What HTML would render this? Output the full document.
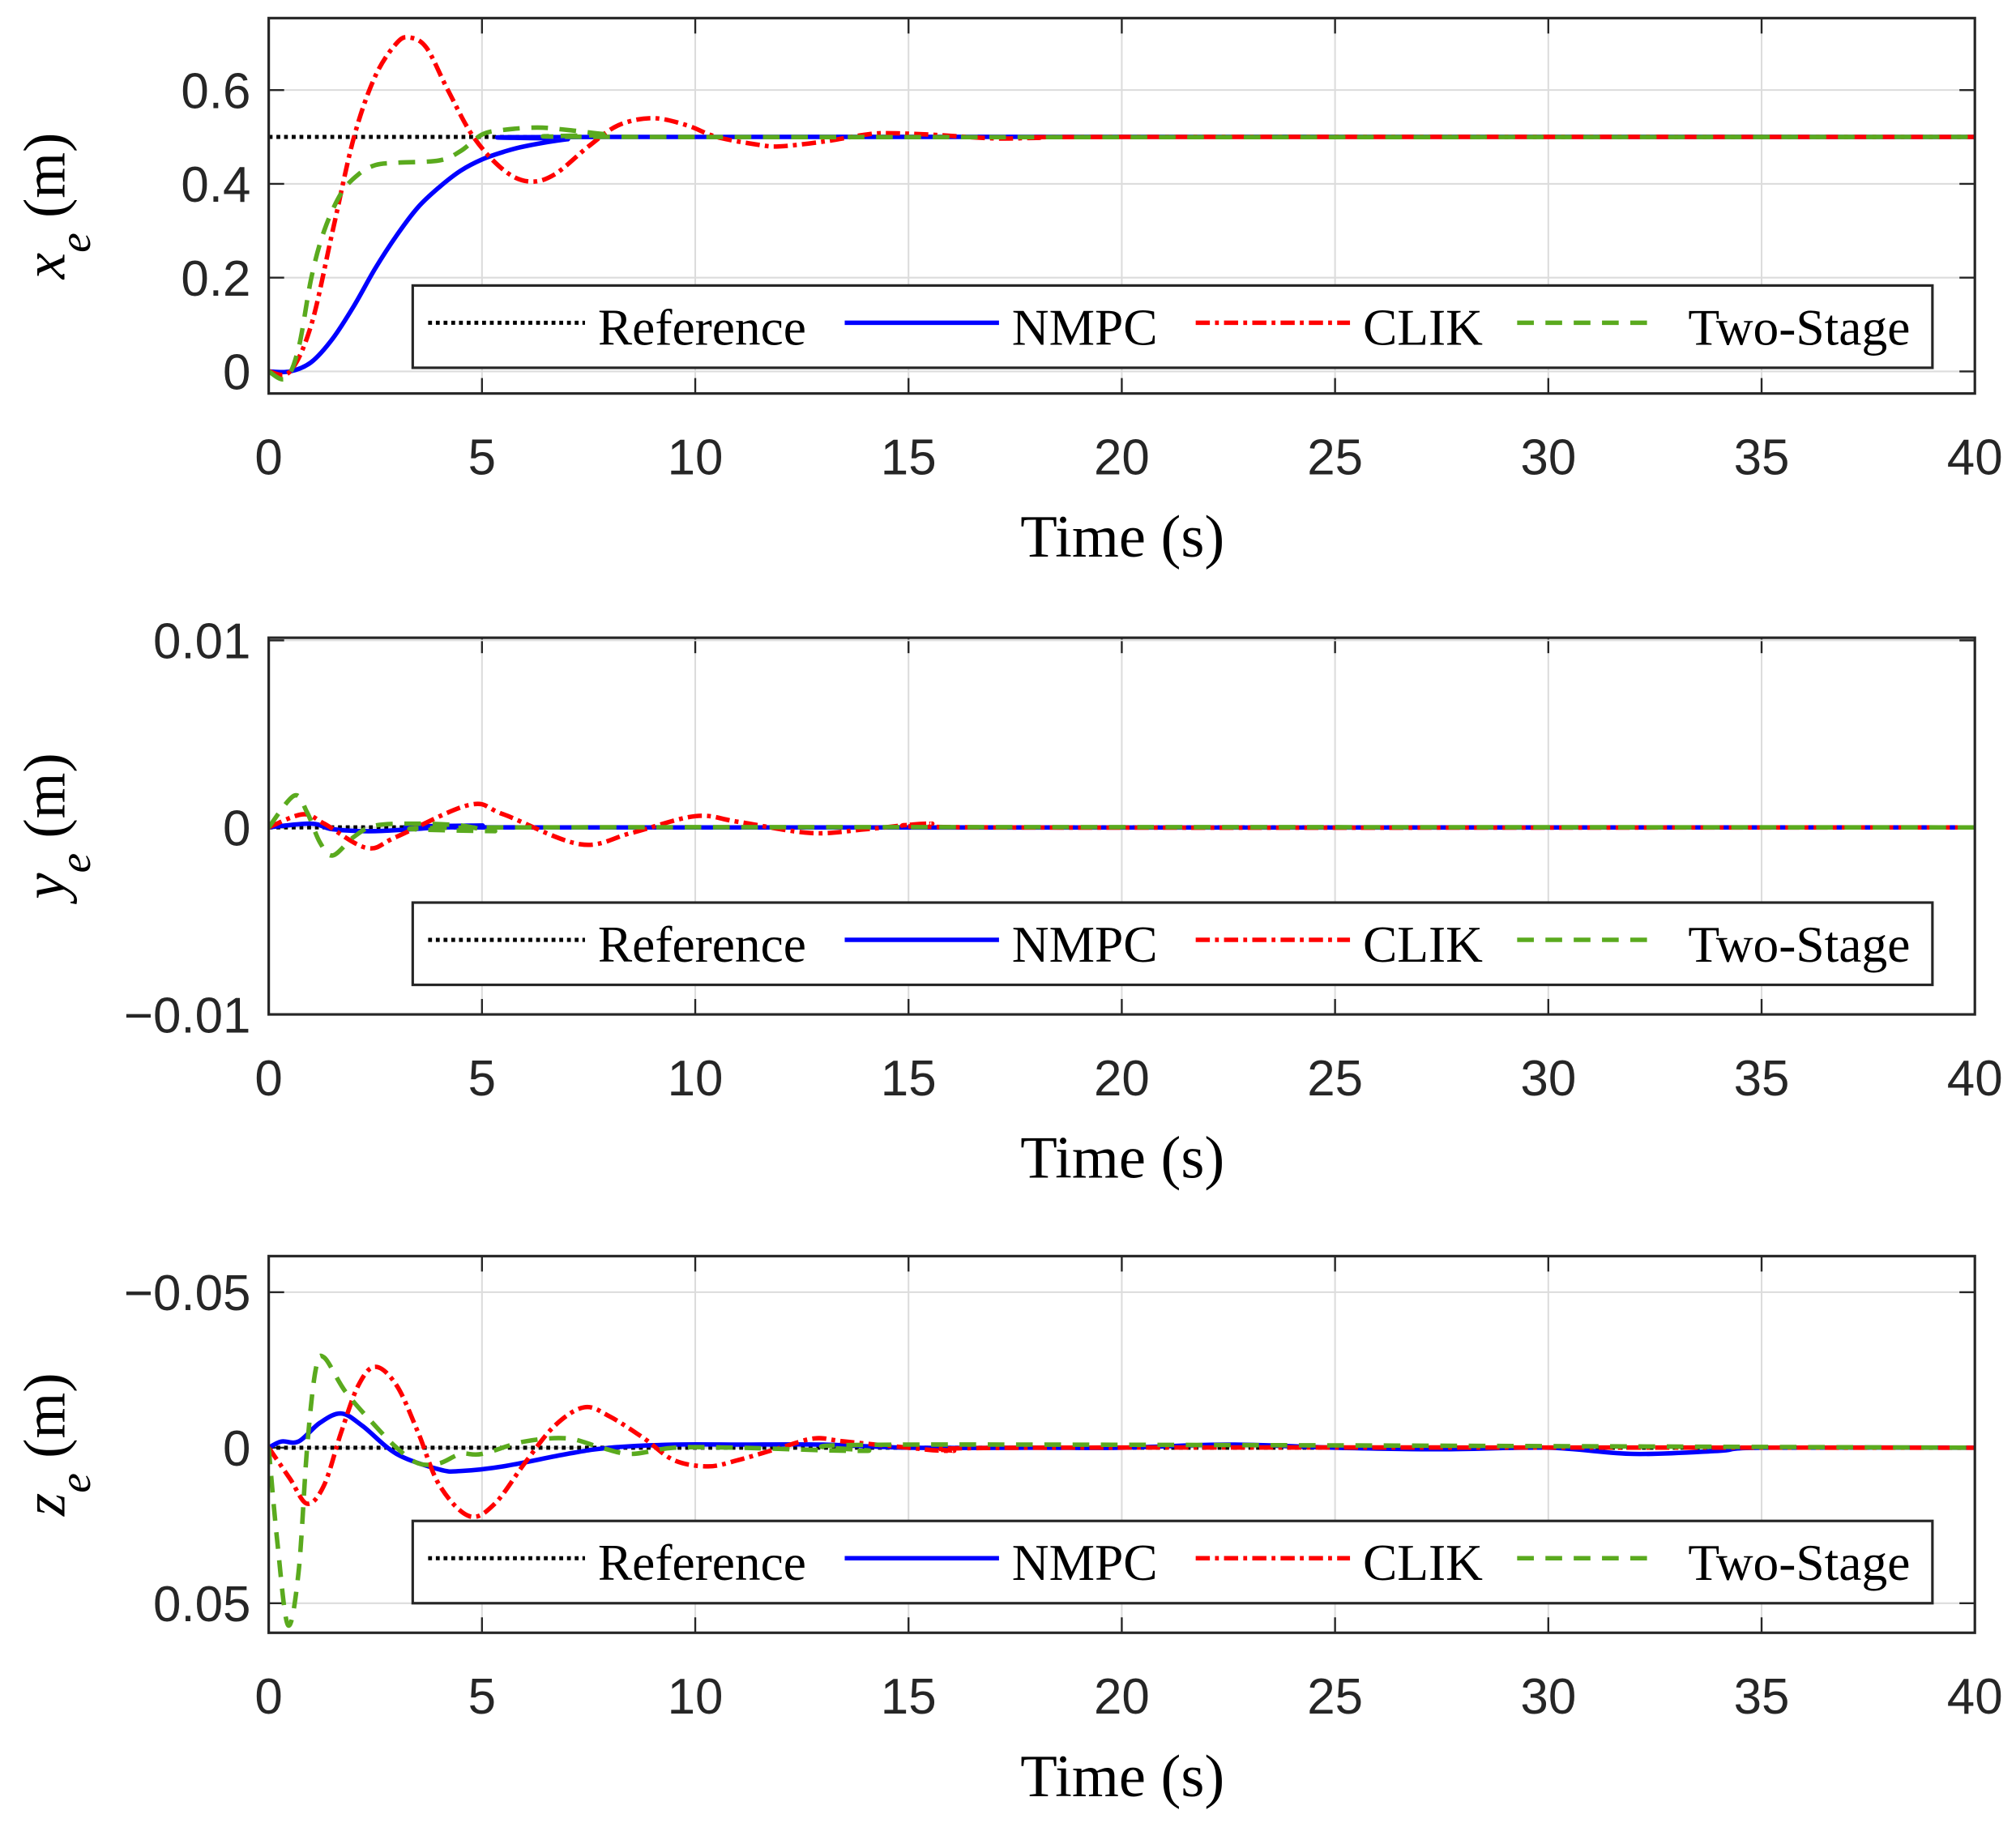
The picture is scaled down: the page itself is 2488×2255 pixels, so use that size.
<!DOCTYPE html>
<html><head><meta charset="utf-8"><style>
html,body{margin:0;padding:0;background:#fff}
svg{display:block}
.tk{font-family:"Liberation Sans",sans-serif;font-size:39px;fill:#262626}
.sf{font-family:"Liberation Serif",serif;fill:#000}
</style></head><body>
<svg id="fig" width="2488" height="2255" viewBox="0 0 1568 1421" xmlns="http://www.w3.org/2000/svg"></svg>
<script>
// ---- data ----
const xTicks=[0,5,10,15,20,25,30,35,40];
const xTickLabels=["0","5","10","15","20","25","30","35","40"];
const seriesNames=["Reference","NMPC","CLIK","Two-Stage"];
// plot 1: x_e
const xRefT=[0,40], xRefV=[0.5,0.5];
const xNmpcT=[0,0.5,1,1.5,2,2.5,3,3.5,4,4.5,5,5.5,6,7,8,40];
const xNmpcV=[0,0.0,0.02,0.07,0.14,0.22,0.29,0.35,0.393,0.428,0.452,0.468,0.48,0.495,0.5,0.5];
const xClikT=[0,0.5,1,1.5,2,2.5,3,3.3,3.7,4.2,4.8,5.5,6.1,6.7,7.5,8.2,9,9.8,10.5,11.5,12,13,14,14.5,15.5,17,18,20,40];
const xClikV=[0,0,0.1,0.3,0.5,0.63,0.70,0.712,0.69,0.6,0.5,0.43,0.405,0.42,0.48,0.525,0.54,0.525,0.5,0.483,0.48,0.49,0.505,0.508,0.505,0.497,0.498,0.5,0.5];
const xTwoT=[0,0.4,0.7,1,1.3,1.7,2.1,2.5,3,4,4.5,5,5.5,6.3,7,8,9,40];
const xTwoV=[0,-0.015,0.05,0.2,0.3,0.38,0.42,0.44,0.445,0.45,0.47,0.505,0.515,0.52,0.515,0.505,0.5,0.5];
// plot 2: y_e
const yRefT=[0,40], yRefV=[0,0];
const yNmpcT=[0,1,1.5,2.5,4,5,6,40];
const yNmpcV=[0,0.0002,-0.0001,-0.0002,0,0.0001,0,0];
const yClikT=[0,0.8,1.3,2.3,3,4.7,5.5,7.3,8.5,10,11,12.7,14,15.5,17,40];
const yClikV=[0,0.0007,0.0002,-0.0011,-0.0005,0.0012,0.0007,-0.0009,-0.0003,0.0006,0.0003,-0.0003,-0.0001,0.0002,0,0];
const yTwoT=[0,0.6,0.9,1.2,1.5,2,2.5,3.5,4.5,5.3,6,40];
const yTwoV=[0,0.0017,0.0008,-0.0008,-0.0015,-0.0005,0.0001,0.0002,0.0001,-0.0002,0,0];
// plot 3: z_e (reversed axis)
const zRefT=[0,40], zRefV=[0,0];
const zNmpcT=[0,0.3,0.7,1.2,1.7,2.2,3,4,4.5,5.5,7,8,9.5,11,13,15,18,20,22.5,25,27.5,30,32,34,35,40];
const zNmpcV=[0,-0.002,-0.002,-0.008,-0.011,-0.007,0.002,0.007,0.0075,0.006,0.002,0,-0.001,-0.001,-0.001,0,0,0,-0.001,0,0.0005,0,0.002,0.001,0,0];
const zClikT=[0,0.5,0.9,1.3,1.7,2.1,2.5,3,3.5,4,4.7,5.3,6,6.7,7.4,8,8.8,9.5,10.3,11,12,12.8,13.5,15,16,18,40];
const zClikV=[0,0.01,0.018,0.012,-0.005,-0.02,-0.026,-0.02,-0.005,0.012,0.022,0.018,0.005,-0.007,-0.013,-0.01,-0.003,0.004,0.006,0.004,0,-0.003,-0.002,0,0.001,0,0];
const zTwoT=[0,0.2,0.45,0.7,0.9,1.1,1.3,1.8,2.5,3,3.5,4,4.5,5,6,7,7.8,8.5,9.5,11,14,15,40];
const zTwoV=[0,0.03,0.057,0.04,0,-0.025,-0.029,-0.018,-0.007,0,0.005,0.005,0.002,0.002,-0.002,-0.003,0,0.002,0,0,0.001,-0.001,0];

const NS="http://www.w3.org/2000/svg";
const svg=document.getElementById('fig');
function mk(tag,attrs,parent){const e=document.createElementNS(NS,tag);for(const k in attrs)e.setAttribute(k,attrs[k]);(parent||svg).appendChild(e);return e;}
const L=209,R=1536;
const styles=[
 {stroke:"#000",dash:"3 3",w:3.2},
 {stroke:"#0000ff",dash:"",w:3.5},
 {stroke:"#ff0000",dash:"11 4 3 4",w:3.5},
 {stroke:"#5aaa1e",dash:"13 9",w:3.5}];
function smoothPath(pts){
  let d="M"+pts[0][0].toFixed(2)+","+pts[0][1].toFixed(2);
  for(let i=0;i<pts.length-1;i++){
    const p0=pts[Math.max(0,i-1)],p1=pts[i],p2=pts[i+1],p3=pts[Math.min(pts.length-1,i+2)];
    const c1=[p1[0]+(p2[0]-p0[0])/6,p1[1]+(p2[1]-p0[1])/6];
    const c2=[p2[0]-(p3[0]-p1[0])/6,p2[1]-(p3[1]-p1[1])/6];
    d+=" C"+c1[0].toFixed(2)+","+c1[1].toFixed(2)+" "+c2[0].toFixed(2)+","+c2[1].toFixed(2)+" "+p2[0].toFixed(2)+","+p2[1].toFixed(2);
  }
  return d;
}
function panel(cfg){
  const g=mk('g',{});
  
  
  const T=cfg.top,B=cfg.bottom;
  const xs=t=>L+(t-0)/40*(R-L);
  const ys=v=>cfg.rev? T+(v-cfg.ymin)/(cfg.ymax-cfg.ymin)*(B-T) : B-(v-cfg.ymin)/(cfg.ymax-cfg.ymin)*(B-T);
  xTicks.forEach((t,i)=>{
    if(i>0&&i<xTicks.length-1){const l=mk('line',{x1:xs(t),x2:xs(t),y1:T,y2:B,stroke:"#dcdcdc","stroke-width":1.3},g);
      }
    mk('line',{x1:xs(t),x2:xs(t),y1:B,y2:B-12,stroke:"#262626","stroke-width":1.5},g);
    mk('line',{x1:xs(t),x2:xs(t),y1:T,y2:T+12,stroke:"#262626","stroke-width":1.5},g);
    const tx=mk('text',{x:xs(t),y:B+63,"text-anchor":"middle",class:"tk"},g);tx.textContent=xTickLabels[i];
    
  });
  cfg.yTicks.forEach((v,i)=>{
    const y=ys(v);
    const l=mk('line',{x1:L,x2:R,y1:y,y2:y,stroke:"#dcdcdc","stroke-width":1.3},g);
    
    mk('line',{x1:L,x2:L+12,y1:y,y2:y,stroke:"#262626","stroke-width":1.5},g);
    mk('line',{x1:R,x2:R-12,y1:y,y2:y,stroke:"#262626","stroke-width":1.5},g);
    const tx=mk('text',{x:L-14,y:y+14,"text-anchor":"end",class:"tk"},g);tx.textContent=cfg.yTickLabels[i];
    
  });
  const clip='clip'+cfg.name;
  const cp=mk('clipPath',{id:clip},g);mk('rect',{x:L,y:T,width:R-L,height:B-T},cp);
  [0,1,2,3].forEach(si=>{
    const [T_,V_]=cfg.series[si];
    const pts=T_.map((t,k)=>[xs(t),ys(V_[k])]);
    const p=mk('path',{d:smoothPath(pts),fill:"none",stroke:styles[si].stroke,"stroke-width":styles[si].w,"stroke-dasharray":styles[si].dash,"clip-path":"url(#"+clip+")"},g);
    
    
  });
  const bx=mk('rect',{x:L,y:T,width:R-L,height:B-T,fill:"none",stroke:"#262626","stroke-width":2},g);
  
  const ly=cfg.legTop,lh=64;
  const lg=mk('g',{},g);
  
  mk('rect',{x:321,y:ly,width:1182,height:lh,fill:"#fff",stroke:"#262626","stroke-width":2},lg);
  const lines=[[333,455,465],[657,777,787],[930,1050,1060],[1180,1290,1313]];
  lines.forEach((ln,i)=>{
    const e=mk('g',{},lg);
    
    
    mk('line',{x1:ln[0],x2:ln[1],y1:ly+lh/2-3,y2:ly+lh/2-3,stroke:styles[i].stroke,"stroke-width":styles[i].w,"stroke-dasharray":styles[i].dash},e);
    const t=mk('text',{x:ln[2],y:ly+lh/2+14,class:"sf","font-size":40},e);t.textContent=seriesNames[i];
  });
  const xt=mk('text',{x:873,y:B+127,"text-anchor":"middle",class:"sf","font-size":47},g);xt.textContent="Time (s)";
  
  const cy=(T+B)/2;
  const yt=mk('text',{transform:"translate(50,"+cy+") rotate(-90)","text-anchor":"middle",class:"sf","font-size":46},g);
  
  const a=mk('tspan',{"font-style":"italic"},yt);a.textContent=cfg.sym;
  const b=mk('tspan',{"font-style":"italic","font-size":35,dy:20},yt);b.textContent="e";
  const c=mk('tspan',{dy:-20},yt);c.textContent=" (m)";
}
panel({name:'x-panel',top:14,bottom:306,ymin:-0.047,ymax:0.7534,rev:false,
  yTicks:[0,0.2,0.4,0.6],yTickLabels:["0","0.2","0.4","0.6"],legTop:222,sym:"x",
  series:[[xRefT,xRefV],[xNmpcT,xNmpcV],[xClikT,xClikV],[xTwoT,xTwoV]]});
panel({name:'y-panel',top:496,bottom:789,ymin:-0.01,ymax:0.01014,rev:false,
  yTicks:[-0.01,0,0.01],yTickLabels:["\u22120.01","0","0.01"],legTop:702,sym:"y",
  series:[[yRefT,yRefV],[yNmpcT,yNmpcV],[yClikT,yClikV],[yTwoT,yTwoV]]});
panel({name:'z-panel',top:977,bottom:1270,ymin:-0.0616,ymax:0.0595,rev:true,
  yTicks:[-0.05,0,0.05],yTickLabels:["\u22120.05","0","0.05"],legTop:1183,sym:"z",
  series:[[zRefT,zRefV],[zNmpcT,zNmpcV],[zClikT,zClikV],[zTwoT,zTwoV]]});
</script>
</body></html>
